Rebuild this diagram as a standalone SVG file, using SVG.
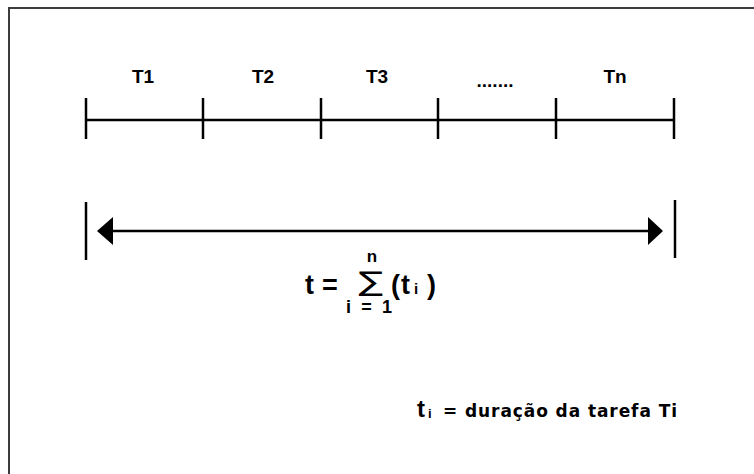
<svg xmlns="http://www.w3.org/2000/svg" width="754" height="474" viewBox="0 0 754 474">
<style>
  .b { font-family: "Liberation Sans", Arial, sans-serif; font-weight: bold; fill: #000; }
  .v { font-family: "DejaVu Sans", Verdana, sans-serif; font-weight: bold; fill: #000; }
  .ln { stroke: #000; stroke-width: 2.5; fill: none; }
</style>
<rect x="0" y="0" width="754" height="474" fill="#fff"/>
<rect x="9" y="8" width="800" height="520" fill="none" stroke="#3c3c3c" stroke-width="2"/>

<g id="labels">
  <text class="b" x="143" y="83" font-size="19" text-anchor="middle">T1</text>
  <text class="b" x="263" y="83" font-size="19" text-anchor="middle">T2</text>
  <text class="b" x="377" y="83" font-size="19" text-anchor="middle">T3</text>
  <text class="b" x="495" y="87" font-size="19" text-anchor="middle">.......</text>
  <text class="b" x="615" y="83" font-size="19" text-anchor="middle">Tn</text>
</g>

<g id="connectors">
  <g id="timeline">
    <line class="ln" x1="85" y1="120" x2="674" y2="120"/>
    <line class="ln" x1="86" y1="98" x2="86" y2="139"/>
    <line class="ln" x1="203" y1="98" x2="203" y2="139"/>
    <line class="ln" x1="321" y1="98" x2="321" y2="139"/>
    <line class="ln" x1="438" y1="98" x2="438" y2="139"/>
    <line class="ln" x1="556" y1="98" x2="556" y2="139"/>
    <line class="ln" x1="674" y1="98" x2="674" y2="139"/>
  </g>
  <g id="span">
    <line class="ln" x1="86" y1="202" x2="86" y2="260"/>
    <line class="ln" x1="675" y1="200" x2="675" y2="258"/>
    <line class="ln" x1="110" y1="231" x2="652" y2="231"/>
    <polygon points="97,231 113,217 113,245" fill="#000"/>
    <polygon points="663,231 648,217 648,245" fill="#000"/>
  </g>
</g>

<g id="formula">
  <text class="b" x="305" y="294" font-size="27">t</text>
  <text class="b" x="322" y="294" font-size="27">=</text>
  <text class="b" x="372" y="262" font-size="17" text-anchor="middle">n</text>
  <text transform="translate(371,291) scale(1.35,1)" x="0" y="0" font-size="27" text-anchor="middle" font-family="'DejaVu Sans', sans-serif">∑</text>
  <text class="b" x="391" y="294" font-size="27">(</text>
  <text class="b" x="401" y="294" font-size="27">t</text>
  <text class="b" x="414" y="294" font-size="15">i</text>
  <text class="b" x="427" y="294" font-size="27">)</text>
  <text class="b" x="346" y="313" font-size="18" textLength="46" lengthAdjust="spacing">i = 1</text>
</g>

<g id="legend">
  <text class="b" x="417" y="417" font-size="24">t</text>
  <text class="b" x="428" y="418" font-size="13">i</text>
  <text class="v" x="443" y="417" font-size="17" textLength="234" lengthAdjust="spacing">= duração da tarefa Ti</text>
</g>
</svg>
